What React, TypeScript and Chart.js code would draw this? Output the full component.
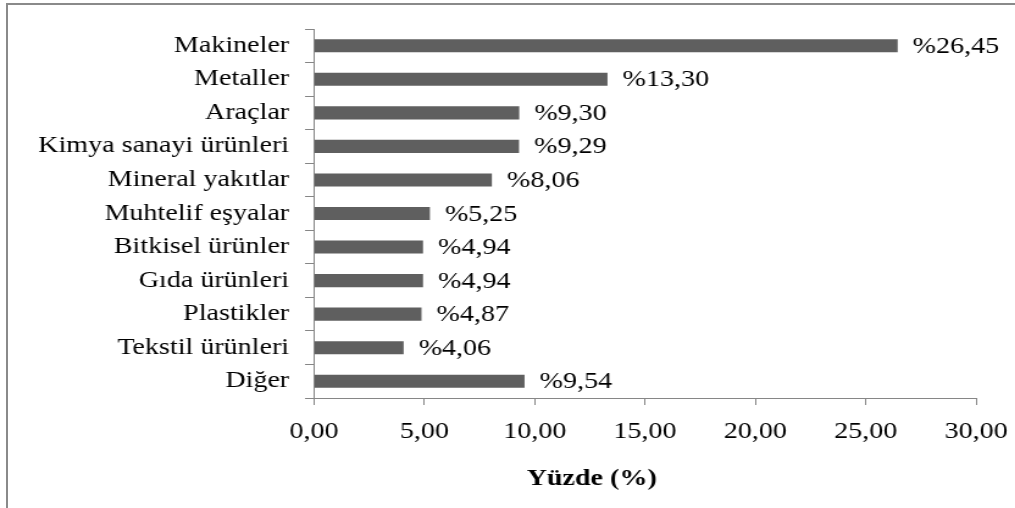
import React, { useEffect, useRef } from "react";
import { Chart, registerables } from "chart.js";

Chart.register(...registerables);

const categories = [
  "Makineler",
  "Metaller",
  "Araçlar",
  "Kimya sanayi ürünleri",
  "Mineral yakıtlar",
  "Muhtelif eşyalar",
  "Bitkisel ürünler",
  "Gıda ürünleri",
  "Plastikler",
  "Tekstil ürünleri",
  "Diğer",
];
const values = [26.45, 13.3, 9.3, 9.29, 8.06, 5.25, 4.94, 4.94, 4.87, 4.06, 9.54];
const xTicks = [0, 5, 10, 15, 20, 25, 30];
const axisTitle = "Yüzde (%)";

const SX = 1.22; // horizontal stretch of the original image
const CW = 832; // canvas logical width (832 * 1.22 ≈ 1015)
const CH = 508;
const FONT = "Liberation Serif, Tinos, Times New Roman, serif";

const fmt = (v: number) => v.toFixed(2).replace(".", ",");

const labelPlugin = {
  id: "valueLabels",
  afterDatasetsDraw(chart: any) {
    const ctx = chart.ctx;
    const meta = chart.getDatasetMeta(0);
    ctx.save();
    ctx.font = `23px ${FONT}`;
    ctx.fillStyle = "#000";
    ctx.textAlign = "left";
    ctx.textBaseline = "middle";
    meta.data.forEach((bar: any, i: number) => {
      ctx.fillText("%" + fmt(values[i]), bar.x + 12.3, bar.y + 1);
    });
    ctx.restore();
  },
  afterDraw(chart: any) {
    const ctx = chart.ctx;
    const a = chart.chartArea;
    ctx.save();
    ctx.font = `bold 23px ${FONT}`;
    ctx.fillStyle = "#000";
    ctx.textAlign = "center";
    ctx.textBaseline = "middle";
    ctx.fillText(axisTitle, (a.left + a.right) / 2 - 43.7, a.bottom + 81);
    ctx.restore();
  },
};

function makeConfig(): any {
  return {
    type: "bar",
    data: {
      labels: categories,
      datasets: [
        {
          data: values,
          backgroundColor: "#5f5f5f",
          borderWidth: 0,
          barPercentage: 0.39,
          categoryPercentage: 1,
        },
      ],
    },
    options: {
      indexAxis: "y",
      animation: false,
      responsive: true,
      maintainAspectRatio: false,
      layout: { padding: { left: 0, right: 32, top: 29, bottom: 0 } },
      plugins: {
        legend: { display: false },
        tooltip: { enabled: false },
        title: { display: false },
      },
      scales: {
        x: {
          type: "linear",
          min: 0,
          max: 30,
          afterBuildTicks: (scale: any) => {
            scale.ticks = xTicks.map((v) => ({ value: v }));
          },
          afterFit: (scale: any) => {
            scale.height = 110;
            scale.paddingLeft = 0;
            scale.paddingRight = 0;
          },
          grid: {
            drawOnChartArea: false,
            drawTicks: true,
            tickLength: 7,
            color: "#868686",
            lineWidth: 1,
          },
          border: { display: true, color: "#868686", width: 1 },
          ticks: {
            padding: 13,
            color: "#000",
            font: { family: FONT, size: 23 },
            maxRotation: 0,
            callback: (v: any) => fmt(Number(v)),
          },
        },
        y: {
          type: "category",
          afterFit: (scale: any) => {
            scale.width = 257.4;
            scale.paddingTop = 0;
            scale.paddingBottom = 0;
          },
          grid: {
            offset: true,
            drawOnChartArea: false,
            drawTicks: true,
            tickLength: 7.4,
            color: "#868686",
            lineWidth: 1,
          },
          border: { display: true, color: "#868686", width: 1 },
          ticks: {
            padding: 13,
            color: "#000",
            font: { family: FONT, size: 23 },
          },
        },
      },
    },
    plugins: [labelPlugin],
  };
}

export default function App() {
  const ref = useRef<HTMLCanvasElement | null>(null);

  useEffect(() => {
    if (!ref.current) return;
    let alive = true;
    let chart: any = new Chart(ref.current, makeConfig());
    const rebuild = () => {
      if (!alive || !ref.current) return;
      chart.destroy();
      chart = new Chart(ref.current, makeConfig());
    };
    const fonts: any = (document as any).fonts;
    if (fonts && fonts.load) {
      Promise.all([
        fonts.load(`23px "Liberation Serif"`),
        fonts.load(`bold 23px "Liberation Serif"`),
      ])
        .then(() => fonts.ready)
        .then(() => requestAnimationFrame(rebuild))
        .catch(() => {});
    }
    return () => {
      alive = false;
      chart.destroy();
    };
  }, []);

  return (
    <div
      style={{
        position: "fixed",
        left: 0,
        top: 0,
        width: 1015,
        height: 508,
        overflow: "hidden",
        background: "#fff",
      }}
    >
      <div
        style={{
          position: "absolute",
          left: 6,
          top: 3,
          width: 1200,
          height: 700,
          border: "2px solid #8a8a8a",
          boxSizing: "border-box",
        }}
      />
      <div
        style={{
          position: "absolute",
          left: 0,
          top: 0,
          width: CW,
          height: CH,
          transform: `scaleX(${SX})`,
          transformOrigin: "0 0",
        }}
      >
        <canvas ref={ref} />
      </div>
    </div>
  );
}
